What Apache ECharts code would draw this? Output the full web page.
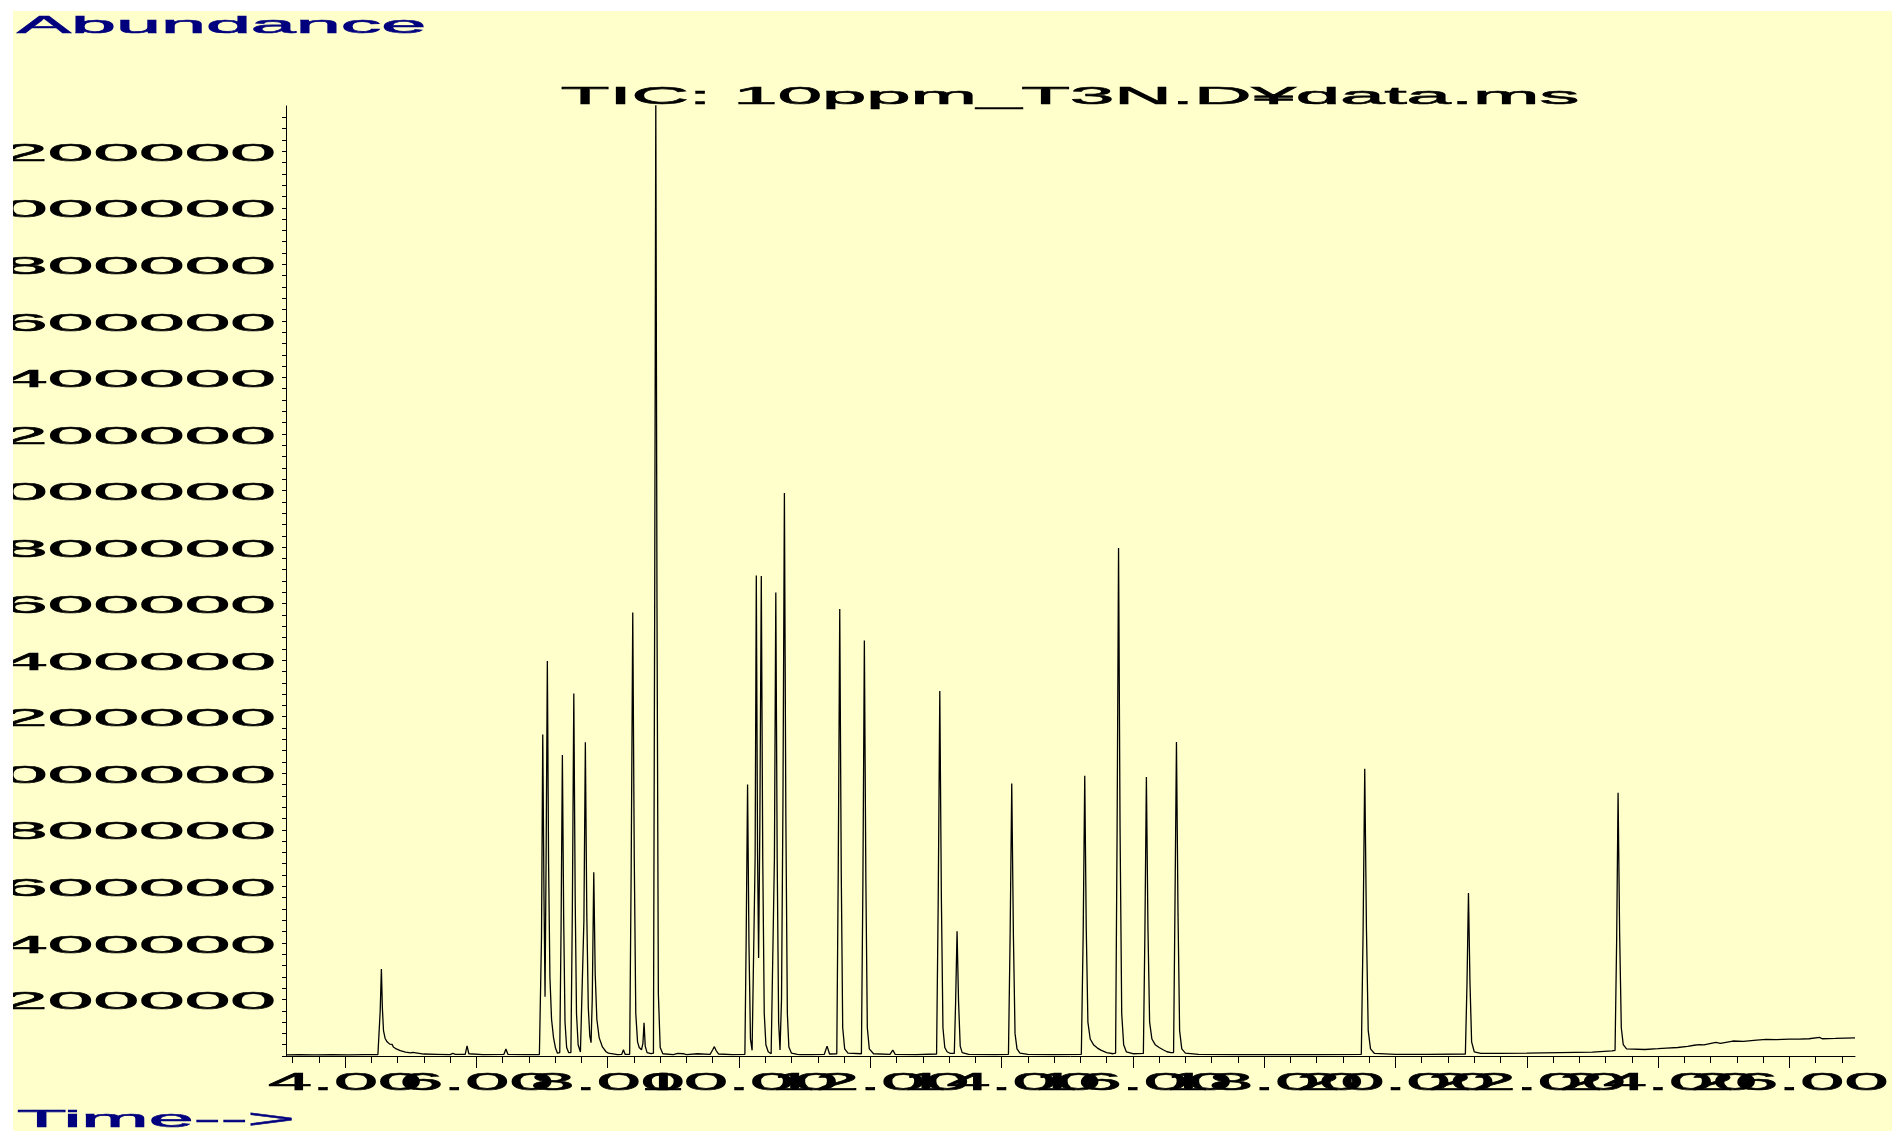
<!DOCTYPE html>
<html>
<head>
<meta charset="utf-8">
<title>TIC: 10ppm_T3N.D¥data.ms</title>
<script src="https://cdn.jsdelivr.net/npm/echarts@6/dist/echarts.min.js"></script>
<style>
  html, body { margin: 0; padding: 0; background: #ffffff; width: 1892px; height: 1131px; overflow: hidden; }
  #chart { position: absolute; left: 13px; top: 11px; width: 1879px; height: 1120px; }
</style>
</head>
<body>
<div id="chart"></div>
<script>
// ---- chart text ----
const chartTitle = 'TIC: 10ppm_T3N.D\u00a5data.ms';
const yAxisName = 'Abundance';
const xAxisName = 'Time-->';

// ---- axes ----
const timeMin = 3.1;
const timeMax = 27.0;
const abundanceMax = 3360000;
const timeTicks = [4, 6, 8, 10, 12, 14, 16, 18, 20, 22, 24, 26];
const timeTickLabels = ['4.00', '6.00', '8.00', '10.00', '12.00', '14.00', '16.00', '18.00', '20.00', '22.00', '24.00', '26.00'];
const abundanceTicks = [200000, 400000, 600000, 800000, 1000000, 1200000, 1400000, 1600000,
  1800000, 2000000, 2200000, 2400000, 2600000, 2800000, 3000000, 3200000];
const abundanceTickLabels = ['200000', '400000', '600000', '800000', '1000000', '1200000', '1400000', '1600000',
  '1800000', '2000000', '2200000', '2400000', '2600000', '2800000', '3000000', '3200000'];

// ---- total ion current trace: [retention time (min), abundance] ----
const traceEarly = [
  [3.10, 4000], [3.30, 4500], [3.55, 4000], [3.80, 4500], [4.05, 4000], [4.30, 5000], [4.50, 5000],
  [4.52, 9000], [4.535, 160000], [4.553, 308000], [4.568, 170000], [4.585, 90000], [4.61, 62000],
  [4.64, 50000], [4.68, 42000], [4.70, 38000], [4.716, 41000], [4.735, 32000], [4.78, 25000],
  [4.84, 19000], [4.92, 14000], [5.00, 11000], [5.031, 13000], [5.06, 9000], [5.20, 7000],
  [5.40, 6000], [5.60, 5000], [5.64, 9000], [5.68, 6000], [5.83, 6000], [5.858, 36000],
  [5.885, 8000], [6.10, 5000], [6.42, 6000], [6.45, 25000], [6.48, 6000], [6.75, 5000], [6.96, 5000]
];
const traceCluster1 = [
  [6.975, 6000], [6.992, 420000], [7.011, 1137500], [7.030, 560000], [7.046, 209700], [7.062, 700000],
  [7.081, 1396800], [7.100, 680000], [7.120, 280000], [7.145, 130000], [7.175, 65000], [7.205, 28000],
  [7.235, 10000], [7.270, 12000], [7.290, 450000], [7.310, 1064400], [7.330, 480000], [7.350, 120000],
  [7.375, 30000], [7.405, 12000], [7.440, 12000], [7.462, 520000], [7.484, 1282500], [7.505, 560000],
  [7.525, 150000], [7.550, 40000], [7.585, 14000], [7.615, 12000], [7.638, 480000], [7.660, 1109300],
  [7.682, 500000], [7.705, 170000], [7.728, 70000], [7.747, 47000], [7.765, 200000], [7.788, 649600],
  [7.810, 290000], [7.835, 130000], [7.870, 65000], [7.920, 32000], [7.975, 15000], [8.011, 10000],
  [8.030, 6000], [8.150, 5000], [8.215, 6000], [8.240, 22000], [8.265, 6000], [8.335, 6000],
  [8.358, 660000], [8.382, 1569000], [8.405, 700000], [8.428, 150000], [8.455, 50000], [8.480, 30000],
  [8.515, 22000], [8.537, 45000], [8.554, 117800], [8.572, 35000], [8.600, 12000], [8.660, 8000],
  [8.697, 10000], [8.716, 1600000], [8.733, 3400000], [8.751, 1600000], [8.772, 220000], [8.800, 30000],
  [8.840, 8000]
];
const traceCluster2 = [
  [9.000, 5000], [9.068, 9000], [9.095, 5000], [9.150, 8000], [9.200, 5000], [9.370, 8000], [9.400, 5000],
  [9.560, 6000], [9.600, 22000], [9.625, 33000], [9.650, 20000], [9.690, 7000], [9.900, 5000],
  [10.090, 6000], [10.110, 420000], [10.131, 960000], [10.152, 400000], [10.175, 60000], [10.200, 20000],
  [10.228, 22000], [10.246, 700000], [10.264, 1699800], [10.283, 720000], [10.299, 346500], [10.318, 820000],
  [10.340, 1697300], [10.362, 700000], [10.385, 150000], [10.410, 40000], [10.445, 15000], [10.490, 8000],
  [10.518, 9000], [10.540, 700000], [10.561, 1639000], [10.582, 700000], [10.604, 120000], [10.625, 21200],
  [10.648, 200000], [10.670, 900000], [10.692, 1990800], [10.714, 850000], [10.737, 150000], [10.760, 32000],
  [10.800, 10000], [10.890, 6000], [10.915, 9000], [10.940, 5000]
];
const traceMiddle = [
  [11.100, 5000], [11.300, 6000], [11.342, 35000], [11.380, 7000], [11.490, 8000], [11.512, 650000],
  [11.535, 1580600], [11.558, 650000], [11.580, 100000], [11.610, 25000], [11.660, 10000], [11.865, 8000],
  [11.888, 620000], [11.910, 1469600], [11.933, 620000], [11.955, 100000], [11.985, 25000], [12.050, 8000],
  [12.300, 6000], [12.343, 21000], [12.380, 6000], [12.700, 5000], [13.010, 7000], [13.035, 550000],
  [13.059, 1291000], [13.083, 560000], [13.107, 100000], [13.135, 30000], [13.170, 15000], [13.220, 9000],
  [13.280, 9000], [13.300, 190000], [13.322, 441000], [13.345, 190000], [13.370, 35000], [13.400, 12000],
  [13.500, 6000], [13.900, 5000], [14.105, 6000], [14.130, 420000], [14.155, 963600], [14.180, 430000],
  [14.205, 80000], [14.235, 25000], [14.280, 10000], [14.400, 6000], [14.800, 5000], [15.215, 6000],
  [15.243, 430000], [15.267, 990800], [15.290, 450000], [15.315, 120000], [15.350, 60000], [15.400, 40000],
  [15.460, 28000], [15.520, 20000], [15.600, 12000], [15.700, 8000], [15.737, 10000], [15.760, 800000],
  [15.782, 1797000], [15.805, 800000], [15.830, 150000], [15.860, 40000], [15.900, 15000], [16.000, 8000],
  [16.160, 9000], [16.183, 430000], [16.206, 986600], [16.230, 450000], [16.255, 120000], [16.290, 60000],
  [16.340, 40000], [16.400, 30000], [16.460, 22000], [16.520, 15000], [16.580, 12000], [16.620, 12000],
  [16.640, 500000], [16.664, 1110300], [16.688, 500000], [16.712, 90000], [16.745, 25000], [16.800, 10000]
];
const traceLate = [
  [17.000, 6000], [17.600, 5000], [18.200, 5000], [18.800, 5000], [19.480, 6000], [19.507, 440000],
  [19.532, 1016300], [19.558, 450000], [19.585, 90000], [19.620, 25000], [19.680, 9000], [20.000, 6000],
  [20.500, 6000], [21.065, 7000], [21.090, 260000], [21.112, 576700], [21.135, 260000], [21.160, 50000],
  [21.200, 15000], [21.300, 9000], [21.600, 9000], [22.000, 10000], [22.500, 12000], [23.000, 14000],
  [23.300, 18000], [23.345, 20000], [23.370, 420000], [23.391, 931000], [23.415, 430000], [23.440, 100000],
  [23.470, 40000], [23.520, 25000], [23.800, 23000], [24.000, 26000], [24.130, 28000], [24.300, 30000],
  [24.450, 34000], [24.550, 38000], [24.630, 40000], [24.700, 39000], [24.880, 48000], [24.950, 45000],
  [25.140, 53000], [25.300, 52000], [25.500, 56000], [25.650, 59000], [25.800, 58000], [26.000, 60000],
  [26.150, 60000], [26.300, 61000], [26.460, 66000], [26.500, 61000], [26.700, 62000], [26.850, 63000],
  [27.000, 64000]
];

const tic = [].concat(traceEarly, traceCluster1, traceCluster2, traceMiddle, traceLate);

// minor tick positions (0.4 min on the time axis, 40000 counts on the abundance axis)
const minorTimeTicks = [];
for (let k = 0; k <= 59; k++) minorTimeTicks.push(Math.round((3.2 + 0.4 * k) * 10) / 10);
const minorAbundanceTicks = [];
for (let k = 0; k <= 83; k++) minorAbundanceTicks.push(40000 * k);

// The instrument font is very wide: glyphs are stretched horizontally,
// with a thin same-colour outline to give the heavier stroke.
const FONT = '24px "Liberation Sans", Arial, sans-serif';
const TIME_STRETCH = 3.3;
const ABUNDANCE_STRETCH = 3.42;
const NAME_STRETCH = 3.37;
const TITLE_STRETCH = 3.32;
const INK = '#000000';
const NAVY = '#00007f';

function wideText(text, fill, align) {
  return { text: text, font: FONT, fill: fill, stroke: fill, lineWidth: 0.6, align: align, verticalAlign: 'middle' };
}

const chart = echarts.init(document.getElementById('chart'), null, { renderer: 'canvas' });

const hiddenLabel = { show: false };
const option = {
  backgroundColor: '#ffffcc',
  animation: false,
  grid: { left: 273, top: 95, right: 37, bottom: 75, containLabel: false, outerBoundsMode: 'none' },
  xAxis: [
    {
      type: 'value', min: timeMin, max: timeMax, position: 'bottom',
      axisLine: { show: true, lineStyle: { color: INK, width: 1 } },
      axisTick: { show: true, length: 7, customValues: minorTimeTicks, lineStyle: { color: INK, width: 1 } },
      axisLabel: hiddenLabel, splitLine: { show: false }
    },
    {
      type: 'value', min: timeMin, max: timeMax, position: 'bottom',
      axisLine: { show: false },
      axisTick: { show: true, length: 12, customValues: timeTicks, lineStyle: { color: INK, width: 1 } },
      axisLabel: hiddenLabel, splitLine: { show: false }
    }
  ],
  yAxis: {
    type: 'value', min: 0, max: abundanceMax, position: 'left',
    axisLine: { show: true, lineStyle: { color: INK, width: 1 } },
    axisTick: { show: true, length: 4, customValues: minorAbundanceTicks, lineStyle: { color: INK, width: 1 } },
    axisLabel: hiddenLabel, splitLine: { show: false }
  },
  series: [
    {
      name: 'TIC', type: 'line', xAxisIndex: 0, yAxisIndex: 0, data: tic,
      symbol: 'none', showSymbol: false, clip: true, silent: true,
      lineStyle: { color: '#000000', width: 1.3 }
    },
    {
      // abundance tick labels, placed left of the axis
      type: 'custom', xAxisIndex: 0, yAxisIndex: 0, clip: false, silent: true, z: 5,
      data: abundanceTicks.map(v => [timeMin, v]),
      renderItem: function (params, api) {
        const p = api.coord([api.value(0), api.value(1)]);
        return {
          type: 'text', x: p[0] - 10, y: p[1] + 3, scaleX: ABUNDANCE_STRETCH,
          style: wideText(abundanceTickLabels[params.dataIndex], INK, 'right')
        };
      }
    },
    {
      // time tick labels, centred under the major ticks
      type: 'custom', xAxisIndex: 0, yAxisIndex: 0, clip: false, silent: true, z: 5,
      data: timeTicks.map(t => [t, 0]),
      renderItem: function (params, api) {
        const p = api.coord([api.value(0), api.value(1)]);
        return {
          type: 'text', x: p[0], y: p[1] + 27, scaleX: TIME_STRETCH,
          style: wideText(timeTickLabels[params.dataIndex], INK, 'center')
        };
      }
    }
  ],
  graphic: [
    { type: 'text', x: 4, y: 15, scaleX: NAME_STRETCH, silent: true, style: wideText(yAxisName, NAVY, 'left') },
    { type: 'text', x: 1057, y: 86, scaleX: TITLE_STRETCH, silent: true, style: wideText(chartTitle, INK, 'center') },
    { type: 'text', x: 4, y: 1109, scaleX: NAME_STRETCH, silent: true, style: wideText(xAxisName, NAVY, 'left') }
  ]
};
chart.setOption(option);
</script>
</body>
</html>
